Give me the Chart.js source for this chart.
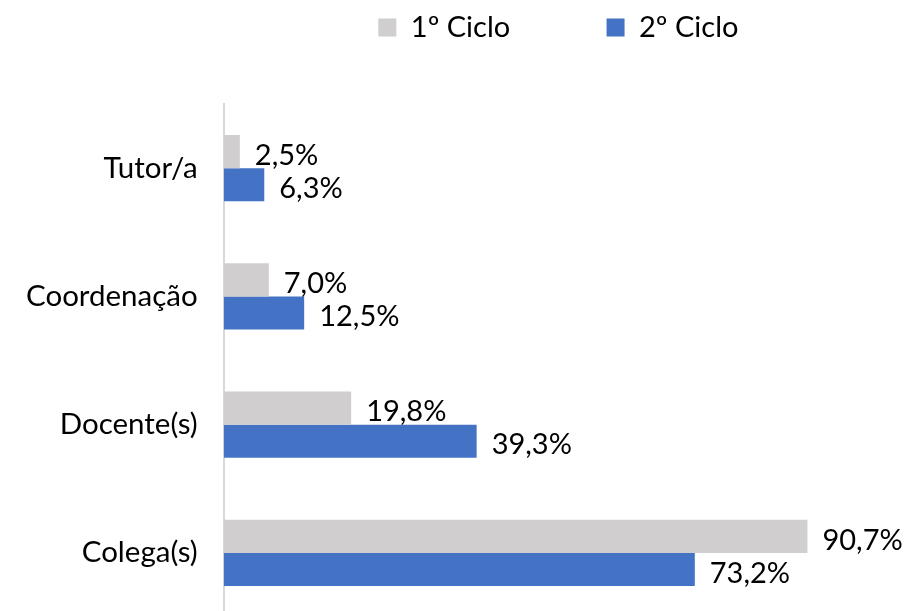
<!DOCTYPE html>
<html>
<head>
<meta charset="utf-8">
<script src="https://cdn.jsdelivr.net/npm/chart.js@4.4.0/dist/chart.umd.min.js"></script>
<style>
  html, body { margin: 0; padding: 0; background: #fff; }
  canvas { display: block; }
</style>
</head>
<body>
<canvas id="barChart" width="908" height="611"></canvas>
<script>
Chart.defaults.font.family = "Lato";
Chart.defaults.font.size = 29;
Chart.defaults.color = 'black';

let categories = ["Tutor/a", "Coordenação", "Docente(s)", "Colega(s)"]
let ciclo1 = [2.5, 7.0, 19.8, 90.7]
let ciclo2 = [6.3, 12.5, 39.3, 73.2]
let seriesNames = ["1º Ciclo", "2º Ciclo"]

// labels at the end of each bar, comma decimal like the original
const barLabels = {
  id: 'barLabels',
  afterDatasetsDraw(chart) {
    const ctx = chart.ctx
    ctx.save()
    ctx.font = "29px Lato"
    ctx.fillStyle = 'black'
    ctx.textAlign = 'left'
    ctx.textBaseline = 'middle'
    chart.data.datasets.forEach((ds, i) => {
      chart.getDatasetMeta(i).data.forEach((bar, j) => {
        let txt = ds.data[j].toFixed(1).replace('.', ',') + '%'
        ctx.fillText(txt, bar.x + 15, bar.y + 4)
      })
    })
    ctx.restore()
  }
}

// more room under the legend
const legendGap = {
  id: 'legendGap',
  beforeInit(chart) {
    const fit = chart.legend.fit
    chart.legend.fit = function () {
      fit.bind(chart.legend)()
      this.height += 52
    }
  }
}

// in the original the last category runs a little past the bottom edge
const bleedBottom = {
  id: 'bleedBottom',
  afterLayout(chart) {
    const y = chart.scales.y
    y.bottom += 6
    y.height += 6
    y.configure()
  }
}

const ctx = document.getElementById('barChart').getContext("2d");

var myChart = new Chart(ctx, {
  type: 'bar',
  data: {
    labels: categories,
    datasets: [{
      label: seriesNames[0],
      data: ciclo1,
      backgroundColor: '#D0CECE',
      categoryPercentage: 0.515,
      barPercentage: 1
    }, {
      label: seriesNames[1],
      data: ciclo2,
      backgroundColor: '#4472C4',
      categoryPercentage: 0.515,
      barPercentage: 1
    }]
  },
  plugins: [barLabels, legendGap, bleedBottom],
  options: {
    indexAxis: 'y',
    responsive: false,
    animation: false,
    layout: {
      padding: { top: 0, right: 15, bottom: 0, left: 0 }
    },
    plugins: {
      legend: {
        position: 'top',
        fullSize: false,
        labels: {
          boxWidth: 18,
          boxHeight: 18,
          padding: 13,
          font: { size: 29 },
          generateLabels(chart) {
            let items = Chart.defaults.plugins.legend.labels.generateLabels(chart)
            items[0].text += '\u2003\u2003\u2003\u2002\u2009'
            return items
          }
        }
      },
      tooltip: { enabled: false }
    },
    scales: {
      x: {
        display: false,
        min: 0,
        max: 104
      },
      y: {
        grid: { display: false, drawTicks: false },
        border: { display: true, color: '#D9D9D9', width: 2 },
        ticks: { padding: 26, font: { size: 29.5 } },
        afterFit(scale) {
          // the axis should run right down to the bottom edge
          scale.paddingTop = 0
          scale.paddingBottom = 0
        }
      }
    }
  }
});
</script>
</body>
</html>
